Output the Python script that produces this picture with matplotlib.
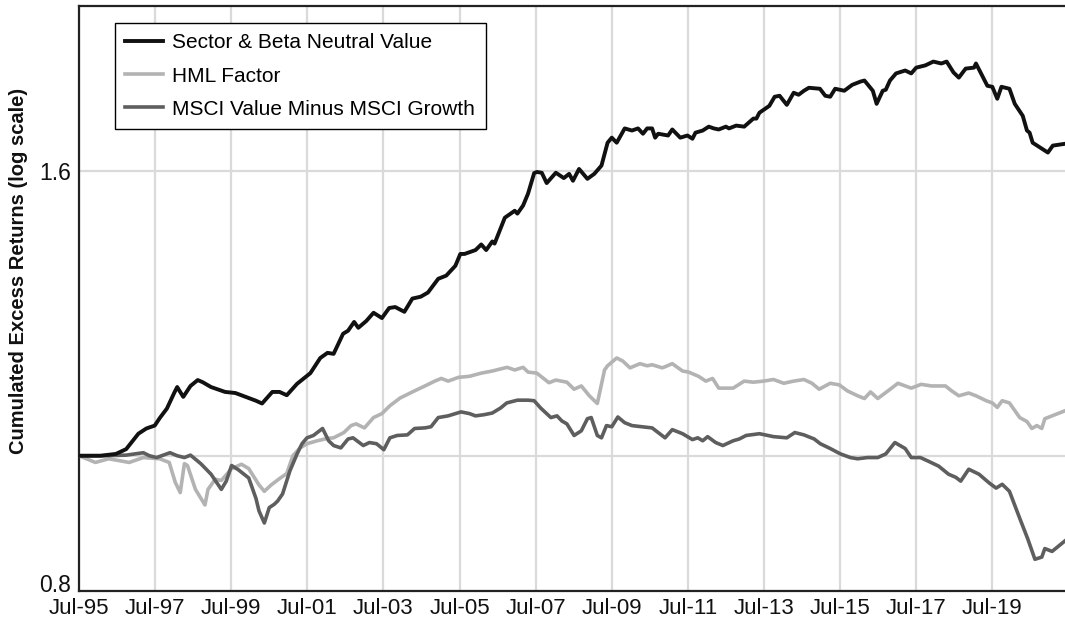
import numpy as np
from matplotlib import pyplot as plt
from matplotlib.transforms import ScaledTranslation

# Cumulated excess returns (dates in decimal years, log-scale values)

sectorDates = [1995.50, 1996.06, 1996.47, 1996.74, 1997.06, 1997.27, 1997.49, 1997.62, 1997.81, 1998.00,
               1998.08, 1998.24, 1998.43, 1998.62, 1998.75, 1998.97, 1999.34, 1999.61, 1999.88, 2000.15,
               2000.31, 2000.58, 2000.77, 2000.96, 2001.23, 2001.58, 2001.84, 2002.03, 2002.19, 2002.44,
               2002.57, 2002.73, 2002.84, 2003.05, 2003.24, 2003.46, 2003.65, 2003.81, 2004.05, 2004.26,
               2004.48, 2004.67, 2004.94, 2005.15, 2005.39, 2005.52, 2005.63, 2005.92, 2006.07, 2006.20,
               2006.36, 2006.42, 2006.69, 2006.95, 2007.02, 2007.17, 2007.30, 2007.46, 2007.53, 2007.66,
               2007.79, 2008.03, 2008.24, 2008.38, 2008.48, 2008.64, 2008.86, 2009.04, 2009.23, 2009.39,
               2009.50, 2009.63, 2009.84, 2010.03, 2010.19, 2010.32, 2010.43, 2010.56, 2010.64, 2010.72,
               2010.98, 2011.09, 2011.30, 2011.49, 2011.62, 2011.70, 2011.89, 2012.05, 2012.18, 2012.31,
               2012.50, 2012.58, 2012.77, 2012.98, 2013.22, 2013.30, 2013.38, 2013.64, 2013.78, 2013.91,
               2014.10, 2014.28, 2014.41, 2014.55, 2014.68, 2014.97, 2015.11, 2015.24, 2015.37, 2015.61,
               2015.82, 2016.04, 2016.14, 2016.36, 2016.46, 2016.62, 2016.70, 2016.81, 2016.97, 2017.21,
               2017.37, 2017.50, 2017.74, 2017.95, 2018.16, 2018.30, 2018.48, 2018.62, 2018.80, 2019.02,
               2019.07, 2019.23, 2019.37, 2019.50, 2019.63, 2019.74, 2019.95, 2020.09, 2020.30, 2020.41,
               2020.48, 2020.56, 2020.96, 2021.09, 2021.41]
sectorValues = [1.000, 1.000, 1.003, 1.011, 1.037, 1.046, 1.051, 1.064, 1.081, 1.109,
                1.120, 1.102, 1.122, 1.133, 1.129, 1.120, 1.111, 1.109, 1.102, 1.095,
                1.090, 1.111, 1.111, 1.105, 1.126, 1.146, 1.175, 1.185, 1.183, 1.223,
                1.229, 1.247, 1.235, 1.249, 1.266, 1.255, 1.276, 1.278, 1.268, 1.296,
                1.300, 1.309, 1.339, 1.346, 1.368, 1.395, 1.395, 1.404, 1.417, 1.404,
                1.424, 1.419, 1.481, 1.498, 1.491, 1.511, 1.541, 1.594, 1.597, 1.595,
                1.568, 1.595, 1.581, 1.592, 1.574, 1.605, 1.579, 1.592, 1.614, 1.676,
                1.690, 1.676, 1.716, 1.710, 1.716, 1.701, 1.716, 1.716, 1.690, 1.701,
                1.696, 1.713, 1.690, 1.696, 1.687, 1.704, 1.710, 1.721, 1.716, 1.713,
                1.721, 1.716, 1.724, 1.721, 1.744, 1.744, 1.761, 1.781, 1.808, 1.811,
                1.784, 1.820, 1.814, 1.826, 1.835, 1.832, 1.811, 1.808, 1.832, 1.826,
                1.844, 1.854, 1.857, 1.826, 1.787, 1.826, 1.829, 1.857, 1.879, 1.888,
                1.879, 1.897, 1.904, 1.916, 1.910, 1.916, 1.882, 1.866, 1.894, 1.897,
                1.910, 1.873, 1.841, 1.838, 1.802, 1.838, 1.832, 1.787, 1.752, 1.710,
                1.704, 1.676, 1.649, 1.668, 1.673]

hmlDates = [1995.50, 1995.93, 1996.28, 1996.82, 1997.19, 1997.62, 1997.87, 1998.03, 1998.16, 1998.27,
            1998.35, 1998.56, 1998.81, 1998.89, 1999.08, 1999.24, 1999.51, 1999.77, 1999.96, 2000.23,
            2000.37, 2000.55, 2000.77, 2000.96, 2001.12, 2001.31, 2001.49, 2001.76, 2002.03, 2002.19,
            2002.46, 2002.65, 2002.78, 2003.00, 2003.24, 2003.46, 2003.67, 2003.94, 2004.32, 2004.59,
            2004.85, 2005.02, 2005.20, 2005.47, 2005.76, 2006.07, 2006.36, 2006.58, 2006.75, 2006.95,
            2007.17, 2007.30, 2007.53, 2007.85, 2008.03, 2008.32, 2008.51, 2008.70, 2008.91, 2009.12,
            2009.31, 2009.39, 2009.63, 2009.79, 2009.98, 2010.24, 2010.43, 2010.56, 2010.83, 2011.09,
            2011.36, 2011.52, 2011.78, 2011.97, 2012.15, 2012.31, 2012.50, 2012.69, 2012.98, 2013.22,
            2013.49, 2013.75, 2014.02, 2014.28, 2014.55, 2014.76, 2014.95, 2015.24, 2015.48, 2015.69,
            2015.96, 2016.14, 2016.30, 2016.49, 2016.76, 2017.02, 2017.37, 2017.63, 2017.90, 2018.27,
            2018.43, 2018.62, 2018.88, 2019.07, 2019.34, 2019.50, 2019.63, 2019.76, 2019.95, 2020.22,
            2020.41, 2020.54, 2020.67, 2020.80, 2020.88, 2021.07, 2021.41]
hmlValues = [1.000, 0.989, 0.995, 0.989, 0.997, 0.995, 0.989, 0.957, 0.941, 0.987,
             0.984, 0.946, 0.922, 0.946, 0.962, 0.960, 0.979, 0.986, 0.979, 0.953,
             0.943, 0.953, 0.963, 0.971, 1.000, 1.013, 1.020, 1.025, 1.029, 1.030,
             1.039, 1.051, 1.054, 1.047, 1.065, 1.072, 1.086, 1.100, 1.113, 1.122,
             1.131, 1.136, 1.131, 1.138, 1.140, 1.146, 1.150, 1.154, 1.157, 1.152,
             1.157, 1.148, 1.146, 1.128, 1.133, 1.129, 1.116, 1.122, 1.104, 1.090,
             1.152, 1.160, 1.175, 1.169, 1.156, 1.164, 1.160, 1.162, 1.156, 1.164,
             1.150, 1.148, 1.140, 1.131, 1.136, 1.118, 1.118, 1.118, 1.131, 1.129,
             1.131, 1.134, 1.127, 1.131, 1.134, 1.127, 1.116, 1.127, 1.124, 1.113,
             1.104, 1.099, 1.111, 1.099, 1.113, 1.127, 1.118, 1.125, 1.122, 1.122,
             1.113, 1.104, 1.109, 1.104, 1.095, 1.091, 1.083, 1.095, 1.091, 1.065,
             1.058, 1.046, 1.051, 1.046, 1.063, 1.068, 1.077]

msciDates = [1995.50, 1996.12, 1996.74, 1997.19, 1997.35, 1997.54, 1997.89, 1998.08, 1998.27, 1998.43,
             1998.70, 1998.97, 1999.24, 1999.37, 1999.51, 1999.69, 1999.96, 2000.15, 2000.23, 2000.37,
             2000.50, 2000.63, 2000.72, 2000.85, 2001.04, 2001.23, 2001.36, 2001.49, 2001.66, 2001.90,
             2002.06, 2002.19, 2002.38, 2002.57, 2002.70, 2002.97, 2003.13, 2003.32, 2003.51, 2003.67,
             2003.86, 2004.13, 2004.32, 2004.59, 2004.75, 2004.94, 2005.20, 2005.54, 2005.76, 2005.92,
             2006.14, 2006.36, 2006.58, 2006.74, 2007.02, 2007.30, 2007.46, 2007.63, 2007.90, 2008.06,
             2008.19, 2008.32, 2008.51, 2008.70, 2008.86, 2008.96, 2009.12, 2009.23, 2009.36, 2009.50,
             2009.66, 2009.84, 2010.03, 2010.29, 2010.56, 2010.90, 2011.09, 2011.36, 2011.62, 2011.76,
             2011.89, 2012.02, 2012.23, 2012.42, 2012.69, 2012.85, 2013.03, 2013.38, 2013.75, 2014.10,
             2014.31, 2014.55, 2014.82, 2014.98, 2015.24, 2015.51, 2015.77, 2015.96, 2016.22, 2016.49,
             2016.70, 2016.94, 2017.21, 2017.37, 2017.61, 2017.82, 2018.09, 2018.35, 2018.54, 2018.67,
             2018.88, 2019.15, 2019.42, 2019.60, 2019.76, 2019.95, 2020.22, 2020.43, 2020.62, 2020.80,
             2020.88, 2021.07, 2021.41]
msciValues = [1.000, 1.000, 1.001, 1.005, 1.000, 0.997, 1.005, 1.000, 0.997, 1.001,
              0.987, 0.970, 0.946, 0.959, 0.984, 0.977, 0.964, 0.932, 0.913, 0.895,
              0.918, 0.923, 0.928, 0.939, 0.975, 1.003, 1.020, 1.030, 1.034, 1.046,
              1.025, 1.017, 1.013, 1.028, 1.030, 1.017, 1.022, 1.020, 1.010, 1.030,
              1.034, 1.035, 1.046, 1.047, 1.049, 1.065, 1.068, 1.075, 1.072, 1.068,
              1.070, 1.073, 1.082, 1.091, 1.096, 1.096, 1.095, 1.082, 1.065, 1.068,
              1.059, 1.054, 1.034, 1.042, 1.063, 1.065, 1.034, 1.030, 1.051, 1.049,
              1.066, 1.056, 1.051, 1.049, 1.047, 1.030, 1.044, 1.037, 1.027, 1.030,
              1.025, 1.032, 1.022, 1.017, 1.025, 1.028, 1.034, 1.037, 1.032, 1.030,
              1.039, 1.035, 1.028, 1.020, 1.012, 1.003, 0.997, 0.995, 0.997, 0.997,
              1.003, 1.022, 1.012, 0.997, 0.997, 0.991, 0.983, 0.970, 0.965, 0.959,
              0.978, 0.970, 0.956, 0.948, 0.954, 0.943, 0.902, 0.872, 0.843, 0.846,
              0.858, 0.854, 0.869]

seriesNames = ['Sector & Beta Neutral Value', 'HML Factor', 'MSCI Value Minus MSCI Growth']

xTickYears = [1995.5 + 2 * i for i in range(13)]
xTickLabels = ['Jul-95', 'Jul-97', 'Jul-99', 'Jul-01', 'Jul-03', 'Jul-05', 'Jul-07',
               'Jul-09', 'Jul-11', 'Jul-13', 'Jul-15', 'Jul-17', 'Jul-19']
yTickValues = [0.8, 1.0, 1.6]
yTickLabels = ['0.8', '', '1.6']

plt.rcParams['font.family'] = ['Liberation Sans', 'DejaVu Sans']

fig = plt.figure(figsize=(10.65, 6.19), dpi=100)
ax = fig.add_axes([79 / 1065., 28 / 619., 986 / 1065., 585 / 619.])

p3, = ax.plot(hmlDates, hmlValues, color='#b3b3b3', linewidth=2.6, zorder=3)
p2, = ax.plot(msciDates, msciValues, color='#5e5e5e', linewidth=2.6, zorder=4)
p1, = ax.plot(sectorDates, sectorValues, color='#111111', linewidth=2.8, zorder=5)

ax.set_yscale('log')
ax.set_ylim(0.8, 2.1)
ax.set_xlim(1995.5, 2021.41)

ax.set_yticks(yTickValues)
ax.set_yticklabels(yTickLabels, fontsize=16.5)
ax.yaxis.set_minor_locator(plt.NullLocator())
ax.set_xticks(xTickYears)
ax.set_xticklabels(xTickLabels, fontsize=16)
ax.tick_params(axis='both', length=0, colors='#111111')
ax.tick_params(axis='y', pad=6)
ax.tick_params(axis='x', pad=5)

# lift the bottom y label a little so it clears Jul-95
lowLabel = ax.get_yticklabels()[0]
lowLabel.set_transform(lowLabel.get_transform() + ScaledTranslation(0, 0.075, fig.dpi_scale_trans))

ax.grid(True, color='#dadada', linewidth=1.6, zorder=0)
ax.set_axisbelow(True)

for side in ['left', 'bottom', 'top']:
    ax.spines[side].set_color('#222222')
    ax.spines[side].set_linewidth(1.6)
ax.spines['right'].set_visible(False)

ax.set_ylabel('Cumulated Excess Returns (log scale)', fontsize=14.5, fontweight='bold',
              color='#111111')
ax.yaxis.set_label_coords(-0.052, 0.547)

leg = ax.legend((p1, p3, p2), (seriesNames[0], seriesNames[1], seriesNames[2]),
                loc='upper left', bbox_to_anchor=(0.0365, 0.971), borderaxespad=0.,
                fontsize=15, handlelength=1.8, handletextpad=0.45, labelspacing=0.68,
                borderpad=0.5, fancybox=False, framealpha=1)
leg.get_frame().set_edgecolor('#000000')
leg.get_frame().set_linewidth(1.0)

plt.savefig('out.png', dpi=100)
